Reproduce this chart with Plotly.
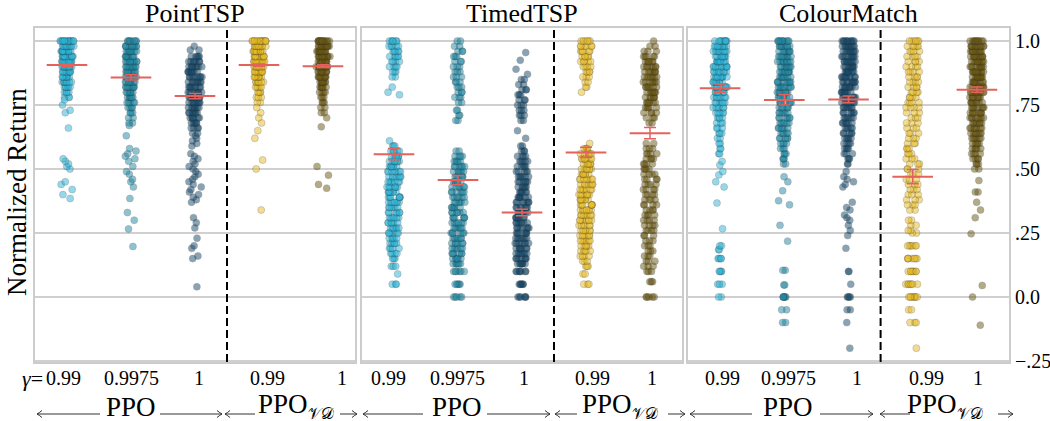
import numpy as np
import plotly.graph_objects as go
from plotly.subplots import make_subplots

# ---------------- data (value, count) ----------------
categories = ["PPO γ=0.99", "PPO γ=0.9975", "PPO γ=1", "PPOVD γ=0.99", "PPOVD γ=1"]
panel_titles = ["PointTSP", "TimedTSP", "ColourMatch"]
gamma_labels = ["0.99", "0.9975", "1", "0.99", "1"]

pt_ppo_099 = [(1.00,14),(0.98,12),(0.96,12),(0.94,12),(0.92,12),(0.90,12),(0.88,10),(0.86,9),(0.84,8),(0.82,6),(0.80,4),(0.78,3),(0.77,1),(0.75,1),(0.73,1),(0.72,1),(0.66,1),(0.54,1),(0.53,1),(0.52,1),(0.51,1),(0.50,1),(0.45,1),(0.44,1),(0.42,1),(0.40,1),(0.385,1)]
pt_ppo_09975 = [(1.00,8),(0.98,9),(0.96,9),(0.94,9),(0.92,9),(0.90,9),(0.88,9),(0.86,9),(0.84,8),(0.82,8),(0.80,7),(0.78,6),(0.76,5),(0.74,4),(0.72,3),(0.70,2),(0.68,2),(0.67,1),(0.63,1),(0.58,1),(0.57,1),(0.56,1),(0.55,1),(0.54,1),(0.53,1),(0.51,1),(0.49,1),(0.48,1),(0.46,1),(0.45,1),(0.43,1),(0.385,1),(0.33,1),(0.30,1),(0.266,1),(0.197,1)]
pt_ppo_1 = [(0.98,1),(0.965,2),(0.94,5),(0.92,7),(0.90,8),(0.88,8),(0.86,8),(0.84,8),(0.82,8),(0.80,8),(0.78,8),(0.76,8),(0.74,7),(0.72,7),(0.70,6),(0.68,5),(0.66,4),(0.64,2),(0.63,1),(0.62,1),(0.61,1),(0.60,1),(0.59,1),(0.56,1),(0.55,1),(0.54,1),(0.53,1),(0.52,1),(0.51,1),(0.50,1),(0.49,1),(0.48,1),(0.47,1),(0.46,1),(0.45,1),(0.44,1),(0.43,1),(0.42,1),(0.41,1),(0.40,1),(0.39,1),(0.38,1),(0.37,1),(0.31,1),(0.29,1),(0.27,1),(0.23,1),(0.20,1),(0.19,1),(0.16,1),(0.15,1),(0.04,1)]
pt_vd_099 = [(1.00,14),(0.98,12),(0.96,12),(0.94,12),(0.92,12),(0.90,11),(0.88,10),(0.86,9),(0.84,7),(0.82,5),(0.80,4),(0.78,3),(0.76,2),(0.74,1),(0.72,1),(0.70,1),(0.68,1),(0.65,1),(0.62,1),(0.535,1),(0.50,1),(0.34,1)]
pt_vd_1 = [(1.00,13),(0.98,12),(0.96,12),(0.94,12),(0.92,11),(0.90,11),(0.88,10),(0.86,9),(0.84,8),(0.82,6),(0.80,4),(0.78,3),(0.76,3),(0.74,2),(0.72,2),(0.70,1),(0.665,1),(0.51,1),(0.476,1),(0.44,1),(0.425,1)]

tt_ppo_099 = [(1.00,6),(0.98,5),(0.96,5),(0.94,5),(0.92,4),(0.90,4),(0.88,3),(0.86,2),(0.82,1),(0.80,1),(0.79,1),(0.61,1),(0.59,3),(0.57,5),(0.55,7),(0.53,7),(0.51,7),(0.49,7),(0.47,7),(0.45,7),(0.43,7),(0.41,7),(0.39,7),(0.37,7),(0.35,6),(0.33,6),(0.31,6),(0.29,6),(0.27,6),(0.25,6),(0.23,5),(0.21,5),(0.19,4),(0.17,4),(0.15,3),(0.12,3),(0.09,1),(0.05,3)]
tt_ppo_09975 = [(1.00,2),(0.98,2),(0.96,3),(0.94,3),(0.92,3),(0.90,3),(0.88,3),(0.86,3),(0.84,3),(0.82,3),(0.80,3),(0.78,3),(0.76,2),(0.73,2),(0.71,2),(0.69,2),(0.57,2),(0.55,4),(0.53,5),(0.51,6),(0.49,6),(0.47,6),(0.45,6),(0.43,6),(0.41,6),(0.39,6),(0.37,6),(0.35,6),(0.33,6),(0.31,6),(0.29,6),(0.27,6),(0.25,6),(0.23,6),(0.21,6),(0.19,6),(0.17,6),(0.15,6),(0.13,6),(0.10,6),(0.05,5),(0.00,5)]
tt_ppo_1 = [(0.955,1),(0.925,1),(0.89,1),(0.87,1),(0.85,2),(0.83,2),(0.81,3),(0.79,3),(0.77,3),(0.75,3),(0.73,3),(0.71,3),(0.69,2),(0.65,1),(0.62,1),(0.59,2),(0.57,3),(0.55,4),(0.53,5),(0.51,5),(0.49,5),(0.47,6),(0.45,6),(0.43,6),(0.41,6),(0.39,7),(0.37,7),(0.35,7),(0.33,7),(0.31,7),(0.29,7),(0.27,7),(0.25,7),(0.23,7),(0.21,7),(0.19,7),(0.17,7),(0.15,7),(0.13,7),(0.10,7),(0.05,6),(0.00,6)]
tt_vd_099 = [(1.00,6),(0.98,6),(0.96,5),(0.94,5),(0.92,5),(0.90,4),(0.88,4),(0.86,3),(0.84,2),(0.82,2),(0.80,1),(0.60,1),(0.58,4),(0.56,6),(0.54,7),(0.52,7),(0.50,7),(0.48,7),(0.46,7),(0.44,7),(0.42,7),(0.40,7),(0.38,7),(0.36,7),(0.34,7),(0.32,7),(0.30,7),(0.28,6),(0.26,6),(0.24,6),(0.22,6),(0.20,5),(0.18,5),(0.16,4),(0.14,3),(0.12,3),(0.09,2),(0.05,3)]
tt_vd_1 = [(1.00,1),(0.98,2),(0.96,3),(0.94,5),(0.92,6),(0.90,7),(0.88,7),(0.86,7),(0.84,7),(0.82,7),(0.80,7),(0.78,6),(0.76,6),(0.74,5),(0.72,4),(0.70,3),(0.68,2),(0.60,2),(0.58,3),(0.56,4),(0.54,4),(0.52,4),(0.50,4),(0.48,4),(0.46,4),(0.44,4),(0.42,4),(0.40,4),(0.38,4),(0.36,4),(0.34,4),(0.32,4),(0.30,4),(0.28,4),(0.26,4),(0.24,3),(0.22,3),(0.20,3),(0.18,3),(0.16,3),(0.14,3),(0.12,3),(0.10,3),(0.06,3),(0.00,5)]

cm_ppo_099 = [(1.00,10),(0.98,10),(0.96,10),(0.94,10),(0.92,10),(0.90,10),(0.88,9),(0.86,9),(0.84,8),(0.82,8),(0.80,7),(0.78,7),(0.76,6),(0.74,6),(0.72,5),(0.70,4),(0.68,3),(0.66,3),(0.64,3),(0.62,2),(0.60,2),(0.58,2),(0.56,2),(0.53,1),(0.516,1),(0.49,1),(0.477,1),(0.45,1),(0.43,1),(0.367,1),(0.267,1),(0.20,2),(0.185,2),(0.15,4),(0.10,4),(0.05,3),(0.00,2)]
cm_ppo_09975 = [(1.00,10),(0.98,9),(0.96,9),(0.94,9),(0.92,9),(0.90,9),(0.88,9),(0.86,9),(0.84,9),(0.82,9),(0.80,8),(0.78,7),(0.76,7),(0.74,6),(0.72,6),(0.70,6),(0.68,6),(0.66,6),(0.64,5),(0.62,5),(0.60,4),(0.58,3),(0.56,3),(0.54,3),(0.52,2),(0.47,1),(0.45,1),(0.415,1),(0.376,1),(0.36,1),(0.28,1),(0.218,1),(0.104,2),(0.047,2),(0.00,6),(-0.05,2),(-0.10,2)]
cm_ppo_1 = [(1.00,10),(0.98,9),(0.96,9),(0.94,9),(0.92,9),(0.90,9),(0.88,9),(0.86,9),(0.84,9),(0.82,9),(0.80,8),(0.78,8),(0.76,7),(0.74,7),(0.72,6),(0.70,6),(0.68,6),(0.66,5),(0.64,5),(0.62,5),(0.60,4),(0.58,4),(0.56,3),(0.54,3),(0.52,2),(0.49,1),(0.47,1),(0.46,1),(0.45,1),(0.44,1),(0.43,1),(0.37,1),(0.35,1),(0.34,1),(0.32,1),(0.31,1),(0.30,1),(0.28,1),(0.26,1),(0.24,1),(0.19,1),(0.10,2),(0.05,1),(0.00,4),(-0.05,2),(-0.10,1),(-0.20,1)]
cm_vd_099 = [(1.00,6),(0.98,5),(0.96,4),(0.94,4),(0.92,4),(0.90,4),(0.88,4),(0.86,4),(0.84,4),(0.82,4),(0.80,4),(0.78,4),(0.76,4),(0.74,4),(0.72,3),(0.70,3),(0.68,3),(0.66,3),(0.64,3),(0.62,3),(0.60,3),(0.58,3),(0.56,3),(0.54,3),(0.52,3),(0.50,3),(0.48,3),(0.46,3),(0.44,3),(0.42,3),(0.40,3),(0.38,3),(0.36,3),(0.34,2),(0.30,2),(0.28,2),(0.26,2),(0.25,2),(0.20,6),(0.15,7),(0.10,7),(0.05,7),(0.00,8),(-0.05,2),(-0.10,3),(-0.20,1)]
cm_vd_1 = [(1.00,10),(0.98,10),(0.96,10),(0.94,10),(0.92,10),(0.90,10),(0.88,10),(0.86,10),(0.84,10),(0.82,9),(0.80,9),(0.78,8),(0.76,8),(0.74,8),(0.72,8),(0.70,8),(0.68,7),(0.66,7),(0.64,7),(0.62,6),(0.60,5),(0.58,5),(0.56,4),(0.54,4),(0.52,3),(0.50,2),(0.455,1),(0.41,2),(0.37,1),(0.34,1),(0.31,1),(0.247,1),(0.045,1),(0.00,1),(-0.11,1)]

pt_means = [0.906, 0.858, 0.785, 0.906, 0.902]
pt_err = [0.004, 0.010, 0.010, 0.004, 0.005]
tt_means = [0.558, 0.457, 0.330, 0.565, 0.640]
tt_err = [0.022, 0.018, 0.013, 0.020, 0.022]
cm_means = [0.816, 0.770, 0.772, 0.470, 0.810]
cm_err = [0.016, 0.020, 0.013, 0.028, 0.010]

y_tickvals = [-0.25, 0.0, 0.25, 0.5, 0.75, 1.0]
y_ticktext = ["\u2212.25", "0.0", ".25", ".50", ".75", "1.0"]

# ---------------- styling ----------------
colors = ["#2ab4d8", "#1d87a3", "#164a6b", "#e8bb22", "#6a5710"]
RED = "#e4625c"
FONT = "Liberation Serif"
W, H = 1050, 421
L, R, T, B = 35, 41, 28, 59
PW, PH = W - L - R, H - T - B

def px(x):
    return (x - L) / PW

def py(y):
    return (H - B - y) / PH

def expand(pairs):
    if not pairs:
        return np.array([])
    return np.repeat([v for v, c in pairs], [c for v, c in pairs])

panels = [
    ([pt_ppo_099, pt_ppo_09975, pt_ppo_1, pt_vd_099, pt_vd_1], pt_means, pt_err),
    ([tt_ppo_099, tt_ppo_09975, tt_ppo_1, tt_vd_099, tt_vd_1], tt_means, tt_err),
    ([cm_ppo_099, cm_ppo_09975, cm_ppo_1, cm_vd_099, cm_vd_1], cm_means, cm_err),
]

fig = make_subplots(rows=1, cols=3)
panel_px = [(35, 355), (362, 682), (688, 1009)]

for p, (groups, means, errs) in enumerate(panels):
    col = p + 1
    for g, pairs in enumerate(groups):
        # dense core and lone points drawn as two strip layers so that
        # plotly's density-scaled jitter still spreads the lone points
        for part in ([q for q in pairs if q[1] > 1], [q for q in pairs if q[1] == 1]):
            yv = expand(part)
            if len(yv) == 0:
                continue
            fig.add_trace(go.Box(
                y=yv, x=[categories[g]] * len(yv),
                boxpoints="all", jitter=0.45, pointpos=0,
                fillcolor="rgba(0,0,0,0)",
                line=dict(width=0, color="rgba(0,0,0,0)"),
                whiskerwidth=0,
                marker=dict(color=colors[g], size=7, opacity=0.5,
                            line=dict(width=0.6, color="rgba(40,40,40,0.7)")),
                showlegend=False, hoverinfo="skip"), row=1, col=col)
    fig.add_trace(go.Scatter(
        x=categories, y=means, mode="markers",
        marker=dict(symbol="line-ew", size=29, color=RED,
                    line=dict(width=2, color=RED)),
        error_y=dict(type="data", array=errs, visible=True,
                     color=RED, thickness=1.5, width=6),
        showlegend=False, hoverinfo="skip"), row=1, col=col)

    xa = "xaxis" if p == 0 else f"xaxis{col}"
    ya = "yaxis" if p == 0 else f"yaxis{col}"
    x0, x1 = panel_px[p]
    fig.layout[xa].update(
        domain=[px(x0), px(x1)], type="category",
        categoryorder="array", categoryarray=categories,
        range=[-0.5, 4.5], showgrid=False, showticklabels=False,
        ticks="", showline=True, mirror=True, linecolor="#cccccc",
        linewidth=2, zeroline=False, automargin=False)
    fig.layout[ya].update(
        range=[-0.254, 1.051], tickvals=y_tickvals, ticktext=y_ticktext,
        showgrid=True, gridcolor="#d0d0d0", gridwidth=1.5,
        zeroline=False, showline=True, mirror=True, linecolor="#cccccc",
        linewidth=2, ticks="", showticklabels=(p == 2),
        side="right" if p == 2 else "left", automargin=False,
        tickfont=dict(family=FONT, size=20, color="black"))

    # dashed separator between PPO and PPO_VD groups
    fig.add_shape(type="line", xref=xa.replace("axis", ""), yref=ya.replace("axis", "") + " domain",
                  x0=2.5, x1=2.5, y0=0, y1=1,
                  line=dict(color="black", width=2, dash="8px,4px"))

annos = []
# titles
for p, t in enumerate(panel_titles):
    x0, x1 = panel_px[p]
    annos.append(dict(text=t, x=px((x0 + x1) / 2), y=py(13), xref="paper", yref="paper",
                      showarrow=False, xanchor="center", yanchor="middle",
                      font=dict(family=FONT, size=26, color="black")))
# y label
annos.append(dict(text="Normalized Return", x=px(17), y=py(192), xref="paper", yref="paper",
                  showarrow=False, textangle=-90, xanchor="center", yanchor="middle",
                  font=dict(family=FONT, size=27, color="black")))
# gamma tick labels
label_px = [[63, 131, 199, 267, 342], [388, 457, 524, 592, 652], [722, 788, 857, 926, 978]]
for p in range(3):
    for g, lab in enumerate(gamma_labels):
        annos.append(dict(text=lab, x=px(label_px[p][g]), y=py(378), xref="paper", yref="paper",
                          showarrow=False, xanchor="center", yanchor="middle",
                          font=dict(family=FONT, size=20, color="black")))
annos.append(dict(text="<i>γ</i>=", x=px(45), y=py(379), xref="paper", yref="paper",
                  showarrow=False, xanchor="right", yanchor="middle",
                  font=dict(family=FONT, size=22, color="black")))
# group labels
ppo_px = [131, 457, 788]
vd_px = [296, 620, 945]
for p in range(3):
    annos.append(dict(text="PPO", x=px(ppo_px[p]), y=py(407), xref="paper", yref="paper",
                      showarrow=False, xanchor="center", yanchor="middle",
                      font=dict(family=FONT, size=27, color="black")))
    annos.append(dict(text="PPO<sub><span style='font-size:16px'>𝒱𝒟</span></sub>",
                      x=px(vd_px[p]), y=py(405), xref="paper", yref="paper",
                      showarrow=False, xanchor="center", yanchor="middle",
                      font=dict(family=FONT, size=27, color="black")))

# long arrows drawn as paper-coordinate shapes (head, tail) in pixels
arrows = [(37, 100), (222, 160), (225, 255), (357, 340),
          (363, 423), (550, 487), (555, 577), (685, 668),
          (690, 752), (873, 820), (880, 910), (1013, 998)]
AY = 414
for head, tail in arrows:
    d = 1 if head > tail else -1
    fig.add_shape(type="line", xref="paper", yref="paper",
                  x0=px(tail), x1=px(head), y0=py(AY), y1=py(AY),
                  line=dict(color="#333333", width=1))
    path = (f"M {px(head - d * 5)},{py(AY - 3.5)} Q {px(head - d * 2)},{py(AY - 1)} {px(head)},{py(AY)} "
            f"Q {px(head - d * 2)},{py(AY + 1)} {px(head - d * 5)},{py(AY + 3.5)}")
    fig.add_shape(type="path", xref="paper", yref="paper", path=path,
                  line=dict(color="#333333", width=1))

fig.update_layout(
    width=W, height=H, margin=dict(l=L, r=R, t=T, b=B, autoexpand=False),
    paper_bgcolor="white", plot_bgcolor="white",
    annotations=annos, showlegend=False,
    font=dict(family=FONT, color="black"),
    boxmode="overlay",
)

fig.write_html(
    "out.html",
    config={"displayModeBar": False},
    post_script=("document.body.style.margin='0';"
                 "document.body.style.overflow='hidden';"
                 "document.documentElement.style.overflow='hidden';"),
)
